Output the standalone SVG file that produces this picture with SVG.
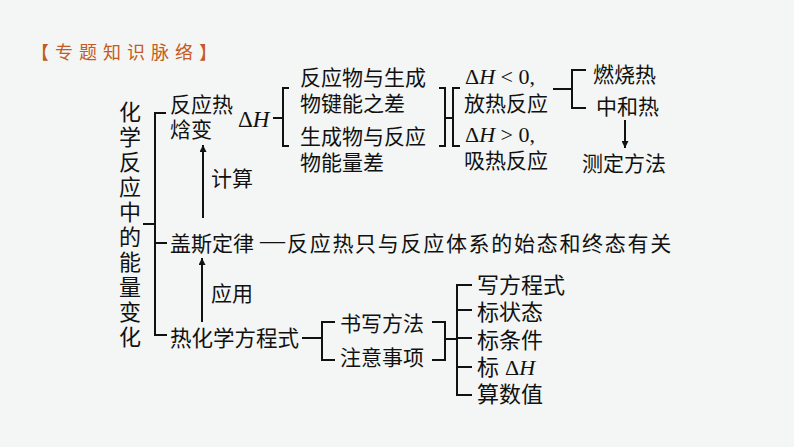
<svg xmlns="http://www.w3.org/2000/svg" width="794" height="447" viewBox="0 0 794 447">
<defs>
<style>
.t{font-family:"Noto Sans CJK SC","Noto Sans",sans-serif;font-size:21px;fill:#111}
.v{font-family:"Noto Sans CJK SC",sans-serif;font-size:22px;fill:#111;writing-mode:vertical-rl;letter-spacing:3px}
.m{font-family:"Liberation Serif","Noto Sans CJK SC",serif;font-size:23px;fill:#111}
.i{font-style:italic}
.c{fill:none;stroke:#111;stroke-width:2}
.title{font-family:"Noto Sans CJK SC",sans-serif;font-size:18px;fill:#c55a22;letter-spacing:6px}
</style>
<marker id="ah" viewBox="0 0 10 10" refX="10" refY="5" markerWidth="10" markerHeight="7" markerUnits="userSpaceOnUse" orient="auto">
<path d="M0,0 L10,5 L0,10 Z" fill="#111"/>
</marker>
</defs>
<rect width="794" height="447" fill="#f3f6f4"/>
<text class="title" x="31" y="59">【专题知识脉络】</text>

<g id="connectors">
<path class="c" d="M143,224 H155"/>
<path class="c" d="M166,113 H155 V335 H167"/>
<path class="c" d="M155,243 H167"/>
<line class="c" x1="203" y1="218" x2="203" y2="145" marker-end="url(#ah)"/>
<line class="c" x1="202" y1="322" x2="202" y2="258" marker-end="url(#ah)"/>
<path class="c" d="M273,118 H283"/>
<path class="c" d="M289,88 H283 V146 H289"/>
<path class="c" d="M439,88 H445 V146 H439"/>
<path class="c" d="M445,118 H453"/>
<path class="c" d="M460,88 H453 V146 H460"/>
<path class="c" d="M553,89 H572"/>
<path class="c" d="M586,70 H572 V108 H586"/>
<line class="c" x1="625" y1="120" x2="625" y2="148" marker-end="url(#ah)"/>
<path class="c" d="M302,338 H322"/>
<path class="c" d="M335,322 H322 V360 H335"/>
<path class="c" d="M432,322 H445 V360 H432"/>
<path class="c" d="M445,339 H457"/>
<path class="c" d="M472,285 H457 V395 H472"/>
<path class="c" d="M457,310 H472 M457,338 H472 M457,367 H472"/>
</g>

<g id="root">
<text class="v" x="130" y="101">化学反应中的能量变化</text>
</g>

<g id="n-fyr">
<text class="t" x="170" y="112">反应热<tspan x="170" y="137">焓变</tspan></text>
</g>
<g id="n-dh"><text class="m" x="238" y="127">Δ<tspan class="i">H</tspan></text></g>
<g id="n-jianeng">
<text class="t" x="300" y="85">反应物与生成<tspan x="300" y="111">物键能之差</tspan></text>
</g>
<g id="n-nengliang">
<text class="t" x="300" y="144">生成物与反应<tspan x="300" y="170">物能量差</tspan></text>
</g>
<g id="n-fangre">
<text class="m" x="465" y="84" style="font-size:22px">Δ<tspan class="i">H</tspan> &lt; 0,</text>
<text class="t" x="464" y="111">放热反应</text>
</g>
<g id="n-xire">
<text class="m" x="465" y="142" style="font-size:22px">Δ<tspan class="i">H</tspan> &gt; 0,</text>
<text class="t" x="464" y="168">吸热反应</text>
</g>
<g id="n-ranshao"><text class="t" x="593" y="82">燃烧热</text></g>
<g id="n-zhonghe"><text class="t" x="596" y="114">中和热</text></g>
<g id="n-ceding"><text class="t" x="582" y="171">测定方法</text></g>
<g id="n-jisuan"><text class="t" x="211" y="186">计算</text></g>
<g id="n-gaisi">
<text class="t" x="170" y="251">盖斯定律</text>
<text class="m" x="260" y="249" style="font-size:25px">—</text>
<text class="t" x="287" y="251" style="letter-spacing:1.7px">反应热只与反应体系的始态和终态有关</text>
</g>
<g id="n-yingyong"><text class="t" x="211" y="301">应用</text></g>
<g id="n-rhx"><text class="t" x="170" y="346" style="font-size:21.5px">热化学方程式</text></g>
<g id="n-shuxie"><text class="t" x="340" y="331">书写方法</text></g>
<g id="n-zhuyi"><text class="t" x="340" y="365">注意事项</text></g>
<g id="n-list">
<text class="t" x="477" y="293" style="font-size:22px">写方程式<tspan x="477" y="320">标状态</tspan><tspan x="477" y="348">标条件</tspan><tspan x="477" y="375">标</tspan><tspan x="477" y="402">算数值</tspan></text>
<text class="m" x="505" y="375" style="font-size:22px">Δ<tspan class="i">H</tspan></text>
</g>
</svg>
